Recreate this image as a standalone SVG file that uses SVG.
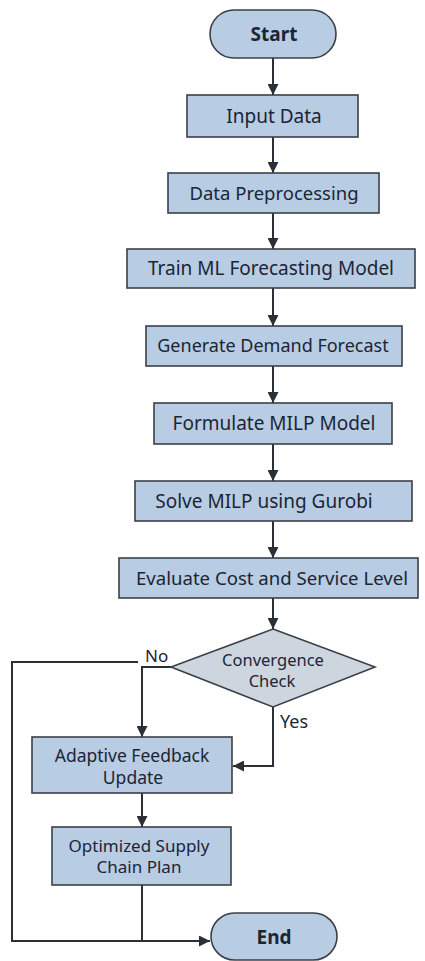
<svg xmlns="http://www.w3.org/2000/svg" width="425" height="961" viewBox="0 0 425 961">
<defs>
<style>
.box{fill:#b8cce4;stroke:#3b4048;stroke-width:1.6}
.dia{fill:#cdd5df;stroke:#3b4048;stroke-width:1.6}
.t{font-family:"Noto Sans","Open Sans",sans-serif;font-size:19px;fill:#1c2533;text-anchor:middle}
.tb{font-family:"Noto Sans","Open Sans",sans-serif;font-size:19px;font-weight:bold;fill:#1c2533;text-anchor:middle}
.lbl{font-family:"Noto Sans","Open Sans",sans-serif;font-size:17px;fill:#1c2533}
.c{fill:none;stroke:#2b3038;stroke-width:2}
</style>
<marker id="ah" viewBox="0 0 10 10" refX="10" refY="5" markerWidth="5.5" markerHeight="5.5" orient="auto" markerUnits="strokeWidth">
<path d="M0,0 L10,5 L0,10 z" fill="#2b3038"/>
</marker>
</defs>
<rect width="425" height="961" fill="#ffffff"/>
<g id="connectors">
<path class="c" d="M273,58 V95" marker-end="url(#ah)"/>
<path class="c" d="M273,137 V173" marker-end="url(#ah)"/>
<path class="c" d="M273,213 V249" marker-end="url(#ah)"/>
<path class="c" d="M273,288 V326" marker-end="url(#ah)"/>
<path class="c" d="M273,366 V403" marker-end="url(#ah)"/>
<path class="c" d="M273,444 V481" marker-end="url(#ah)"/>
<path class="c" d="M273,521 V558" marker-end="url(#ah)"/>
<path class="c" d="M273,598 V629" marker-end="url(#ah)"/>
<path class="c" d="M171,667 H142 V737" marker-end="url(#ah)"/>
<path class="c" d="M138,662 H12 V941 H210" marker-end="url(#ah)"/>
<path class="c" d="M273,707 V766 H233" marker-end="url(#ah)"/>
<path class="c" d="M142,793 V827" marker-end="url(#ah)"/>
<path class="c" d="M142,885 V941"/>
<text class="lbl" x="145" y="662">No</text>
<text class="lbl" x="280" y="728" style="font-size:18px">Yes</text>
</g>
<g id="start">
<rect class="box" x="210" y="10" width="126" height="48" rx="24"/>
<text class="tb" x="274" y="41">Start</text>
</g>
<g id="input">
<rect class="box" x="187" y="95" width="171" height="42"/>
<text class="t" x="274" y="123">Input Data</text>
</g>
<g id="preprocess">
<rect class="box" x="168" y="173" width="211" height="40"/>
<text class="t" x="274" y="200" style="font-size:18.5px">Data Preprocessing</text>
</g>
<g id="train">
<rect class="box" x="127" y="249" width="288" height="39"/>
<text class="t" x="271" y="275">Train ML Forecasting Model</text>
</g>
<g id="forecast">
<rect class="box" x="146" y="326" width="256" height="40"/>
<text class="t" x="273" y="352" style="font-size:18px">Generate Demand Forecast</text>
</g>
<g id="formulate">
<rect class="box" x="154" y="403" width="238" height="41"/>
<text class="t" x="274" y="430">Formulate MILP Model</text>
</g>
<g id="solve">
<rect class="box" x="135" y="481" width="277" height="40"/>
<text class="t" x="264" y="508">Solve MILP using Gurobi</text>
</g>
<g id="evaluate">
<rect class="box" x="119" y="558" width="299" height="40"/>
<text class="t" x="272" y="585" style="font-size:18.6px">Evaluate Cost and Service Level</text>
</g>
<g id="convergence">
<polygon class="dia" points="273,629 375,667 273,707 171,667"/>
<text class="t" x="273" y="666" style="font-size:16.5px">Convergence</text>
<text class="t" x="272" y="687" style="font-size:16.5px">Check</text>
</g>
<g id="adaptive">
<rect class="box" x="32" y="737" width="200" height="56"/>
<text class="t" x="132" y="761.5" style="font-size:17.5px">Adaptive Feedback</text>
<text class="t" x="133" y="783.5" style="font-size:17.5px">Update</text>
</g>
<g id="optimized">
<rect class="box" x="52" y="827" width="179" height="58"/>
<text class="t" x="139" y="852" style="font-size:17px">Optimized Supply</text>
<text class="t" x="139" y="873" style="font-size:17px">Chain Plan</text>
</g>
<g id="end">
<rect class="box" x="211" y="913" width="126" height="47" rx="23.5"/>
<text class="tb" x="274" y="944">End</text>
</g>
</svg>
